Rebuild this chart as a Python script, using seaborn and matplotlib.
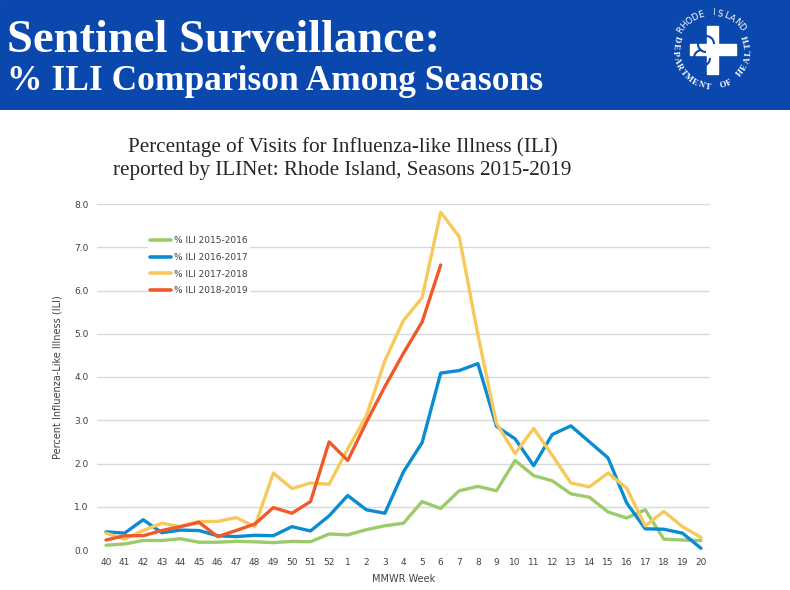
import numpy as np
import pandas as pd
import matplotlib
matplotlib.use("Agg")
import matplotlib.pyplot as plt
from matplotlib.patches import Arc
import seaborn as sns

weeks = ["40", "41", "42", "43", "44", "45", "46", "47", "48", "49", "50", "51", "52",
         "1", "2", "3", "4", "5", "6", "7", "8", "9", "10", "11", "12", "13", "14",
         "15", "16", "17", "18", "19", "20"]

ili_2015_2016 = [0.11, 0.14, 0.22, 0.22, 0.26, 0.18, 0.18, 0.20, 0.19, 0.17, 0.20, 0.19, 0.37,
                 0.35, 0.47, 0.56, 0.62, 1.12, 0.96, 1.37, 1.47, 1.37, 2.07, 1.72, 1.60,
                 1.30, 1.22, 0.88, 0.74, 0.93, 0.25, 0.23, 0.22]
ili_2016_2017 = [0.42, 0.39, 0.70, 0.40, 0.46, 0.45, 0.33, 0.31, 0.34, 0.33, 0.54, 0.44, 0.79,
                 1.26, 0.93, 0.85, 1.81, 2.48, 4.09, 4.15, 4.31, 2.86, 2.57, 1.95, 2.67,
                 2.87, 2.50, 2.13, 1.09, 0.49, 0.48, 0.39, 0.04]
ili_2017_2018 = [0.39, 0.25, 0.45, 0.62, 0.54, 0.66, 0.66, 0.75, 0.54, 1.78, 1.42, 1.55, 1.52,
                 2.34, 3.10, 4.38, 5.31, 5.83, 7.81, 7.24, 4.98, 2.93, 2.23, 2.81, 2.19,
                 1.55, 1.46, 1.78, 1.43, 0.56, 0.89, 0.54, 0.29]
ili_2018_2019 = [0.23, 0.33, 0.33, 0.45, 0.54, 0.64, 0.31, 0.45, 0.60, 0.98, 0.85, 1.12, 2.50,
                 2.07, 2.95, 3.78, 4.55, 5.27, 6.59]

seasons = ["% ILI 2015-2016", "% ILI 2016-2017", "% ILI 2017-2018", "% ILI 2018-2019"]
colors = ["#9bcb6b", "#0b8cd1", "#f7c95c", "#f05a2a"]

rows = []
for name, vals in zip(seasons, [ili_2015_2016, ili_2016_2017, ili_2017_2018, ili_2018_2019]):
    for i, v in enumerate(vals):
        rows.append({"pos": i, "week": weeks[i], "ili": v, "season": name})
df = pd.DataFrame(rows)

sns.set_style("white")
plt.rcParams["font.family"] = ["DejaVu Sans"]

fig = plt.figure(figsize=(7.9, 5.9), dpi=100)
blue = "#0a48ad"

# header band
band = fig.add_axes([0, 1 - 110 / 590, 1, 110 / 590])
band.set_xlim(0, 790)
band.set_ylim(110, 0)
band.set_aspect("equal")
band.axis("off")
band.add_patch(plt.Rectangle((0, 0), 790, 110, color=blue, zorder=0))
band.text(7, 52, "Sentinel Surveillance:", color="white", fontsize=33.5, fontweight="bold",
          family="Liberation Serif", va="baseline", ha="left")
band.text(7, 90, "% ILI Comparison Among Seasons", color="white", fontsize=25.5,
          fontweight="bold", family="Liberation Serif", va="baseline", ha="left")

# logo: lettering around a circle and a white cross
cx, cy, r = 712, 50, 37
top_txt = "RHODE ISLAND"
for ch, a in zip(top_txt, np.linspace(148, 38, len(top_txt))):
    t = np.deg2rad(a)
    band.text(cx + r * np.cos(t), cy - r * np.sin(t), ch, color="white", fontsize=6.3,
              family="DejaVu Sans", ha="center", va="center", rotation=a - 90)
bot_txt = "DEPARTMENT OF HEALTH"
for ch, a in zip(bot_txt, np.linspace(162, 378, len(bot_txt))):
    t = np.deg2rad(a)
    band.text(cx + r * np.cos(t), cy - r * np.sin(t), ch, color="white", fontsize=6.3,
              fontweight="bold", family="Liberation Serif", ha="center", va="center",
              rotation=a - 270)
band.add_patch(plt.Rectangle((cx - 5, cy - 24), 11, 48, color="white"))
band.add_patch(plt.Rectangle((cx - 22, cy - 6), 46, 11, color="white"))
band.add_patch(Arc((cx - 6, cy - 6), 16, 16, theta1=90, theta2=360, color=blue, lw=1.5))
band.add_patch(Arc((cx - 10, cy + 8), 16, 16, theta1=0, theta2=270, color=blue, lw=1.5))

fig.text(342.5 / 790, 1 - 147 / 590, "Percentage of Visits for Influenza-like Illness (ILI)",
         ha="center", va="center", fontsize=15.2, family="Liberation Serif")
fig.text(342.5 / 790, 1 - 170 / 590, "reported by ILINet: Rhode Island, Seasons 2015-2019",
         ha="center", va="center", fontsize=15.2, family="Liberation Serif")

ax = fig.add_axes([96.7 / 790, 1 - 550 / 590, (710.3 - 96.7) / 790, (550 - 204) / 590])
sns.lineplot(data=df, x="pos", y="ili", hue="season", palette=colors, hue_order=seasons,
             linewidth=2.4, ax=ax, sort=False)

ax.set_xlim(-0.5, len(weeks) - 0.5)
ax.set_ylim(0, 8)
ax.set_xticks(range(len(weeks)))
ax.set_xticklabels(weeks)
ax.set_yticks(np.arange(0, 8.1, 1))
ax.set_yticklabels([f"{v:.1f}" for v in np.arange(0, 8.1, 1)])
ax.tick_params(axis="both", length=0, labelsize=6.5, colors="#404040")
ax.tick_params(axis="x", pad=6)
ax.tick_params(axis="y", pad=6)
ax.grid(axis="y", color="#d9d9d9", linewidth=1)
ax.set_axisbelow(True)
for s in ax.spines.values():
    s.set_visible(False)
ax.set_xlabel("MMWR Week", fontsize=7, color="#404040", labelpad=5)
ax.set_ylabel("Percent Influenza-Like Illness (ILI)", fontsize=7, color="#404040", labelpad=8)

leg = ax.legend(loc="upper left", bbox_to_anchor=(0.076, 0.925), frameon=True, fontsize=6.5,
                handlelength=2.4, handletextpad=0.35, labelspacing=0.85, borderpad=0.2)
leg.get_frame().set_edgecolor("none")
leg.get_frame().set_facecolor("white")
leg.get_frame().set_alpha(1)
for line in leg.get_lines():
    line.set_linewidth(2.6)
for t in leg.get_texts():
    t.set_color("#404040")

fig.savefig("out.png", dpi=100)
